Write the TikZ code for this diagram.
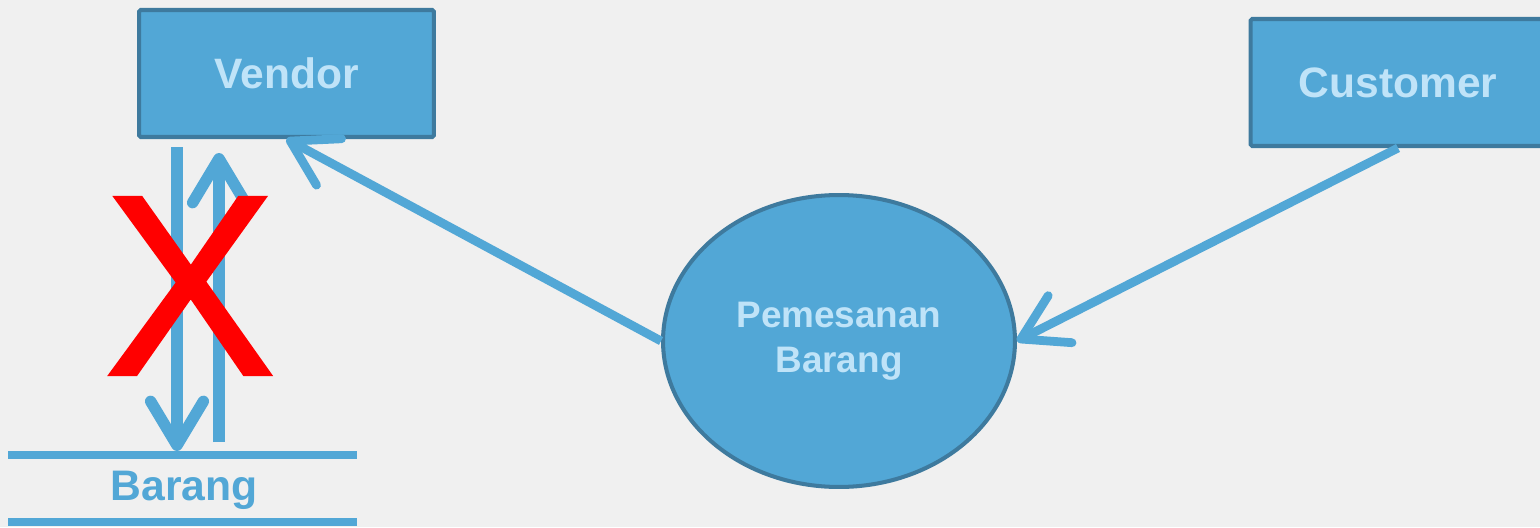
\documentclass[tikz,border=0pt]{standalone}
\usepackage{fontspec}
\setmainfont{Liberation Sans}
\newfontfamily\silangfont[FakeBold=1]{Liberation Sans}
\usetikzlibrary{arrows.meta,shapes.geometric}
\definecolor{biru}{HTML}{52A7D6}
\definecolor{birutua}{HTML}{3E7A9E}
\definecolor{birumuda}{HTML}{BFE3F8}
\definecolor{latar}{HTML}{F0F0F0}
\tikzset{
  entitas/.style={draw=birutua,fill=biru,line width=2.3pt,rounded corners=1pt,
    minimum width=5.9cm,minimum height=2.54cm,text=birumuda,font=\bfseries\fontsize{24.2}{27}\selectfont},
  proses/.style={ellipse,draw=birutua,fill=biru,line width=2.3pt,
    minimum width=7.04cm,minimum height=5.84cm,text=birumuda,align=center,
    font=\bfseries\fontsize{21}{25.5}\selectfont},
  alur/.style={draw=biru,line width=5pt,-{Straight Barb[length=25pt,width=30pt,round]}},
  simpan/.style={draw=biru,line width=4pt}
}
\begin{document}
\begin{tikzpicture}[x=0.02cm,y=-0.02cm]
\fill[latar] (0,0) rectangle (1540,527);
\useasboundingbox (0,0) rectangle (1540,527);
% entitas dan proses
\node[entitas] (vendor) at (286.5,73.5) {Vendor};
\node[entitas] (customer) at (1398,82.5) {Customer};
\node[proses] (pesan) at (839,341) {Pemesanan\\Barang};
% data store
\coordinate (st1) at (8,455);
\coordinate (st2) at (357,455);
\coordinate (sb1) at (8,522);
\coordinate (sb2) at (357,522);
\draw[simpan] (st1)--(st2) (sb1)--(sb2);
\node[text=biru,font=\bfseries\fontsize{24.3}{26}\selectfont] (barang) at (184,490) {Barang};
% alur
\coordinate (a1) at (177,147);
\coordinate (a2) at (177,451);
\coordinate (b1) at (219,442);
\coordinate (b2) at (219,153);
\draw[alur,line width=6.5pt] (a1)--(a2);
\draw[alur,line width=6.5pt] (b1)--(b2);
\draw[alur] (pesan.west)--(vendor.south);
\draw[alur] (customer.south)--(pesan.east);
% tanda silang
\node[text=red,font=\silangfont\fontsize{147}{150}\selectfont,inner sep=0pt] (silang) at (190,286) {X};
\end{tikzpicture}
\end{document}
